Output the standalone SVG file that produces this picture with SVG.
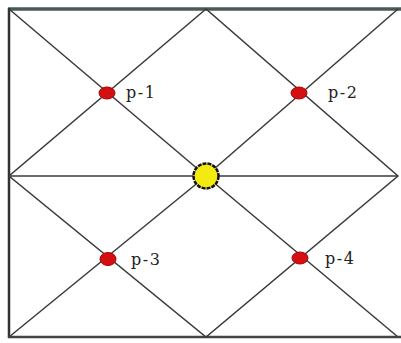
<svg xmlns="http://www.w3.org/2000/svg" width="401" height="343" viewBox="0 0 401 343">
<style>
.ln{stroke:#3a3a3a;stroke-width:1.5;fill:none}
.pt{fill:#d40f12;stroke:#a00;stroke-width:1}
.lb{font-family:"DejaVu Serif","Liberation Serif",serif;font-size:16px;fill:#222;letter-spacing:1.5px}
</style>
<rect width="401" height="343" fill="#fff"/>
<g id="frame">
<line x1="8" y1="9" x2="401" y2="9" stroke="#4a5a58" stroke-width="3.5"/>
<line x1="9" y1="8" x2="9" y2="338" stroke="#333" stroke-width="2.5"/>
<line x1="8" y1="337" x2="401" y2="337" stroke="#444" stroke-width="2.5"/>
</g>
<g id="connectors">
<line class="ln" x1="9" y1="9" x2="206" y2="176"/>
<line class="ln" x1="206" y1="176" x2="398" y2="337"/>
<line class="ln" x1="398" y1="9" x2="206" y2="176"/>
<line class="ln" x1="206" y1="176" x2="9" y2="337"/>
<polygon class="ln" points="206,9 9,176 206,337 398,176"/>
<line class="ln" x1="9" y1="176" x2="398" y2="176"/>
</g>
<g id="center"><circle cx="206" cy="176" r="12.5" fill="#f5ea10" stroke="#111" stroke-width="2.5" stroke-dasharray="4 1"/></g>
<g id="p1"><ellipse class="pt" cx="107" cy="93" rx="8" ry="6"/><text class="lb" x="126" y="98">p-1</text></g>
<g id="p2"><ellipse class="pt" cx="299" cy="93" rx="8" ry="6"/><text class="lb" x="328" y="98">p-2</text></g>
<g id="p3"><ellipse class="pt" cx="108" cy="259" rx="8" ry="6.5"/><text class="lb" x="131" y="265">p-3</text></g>
<g id="p4"><ellipse class="pt" cx="300" cy="258" rx="8" ry="6"/><text class="lb" x="325" y="264">p-4</text></g>
</svg>
